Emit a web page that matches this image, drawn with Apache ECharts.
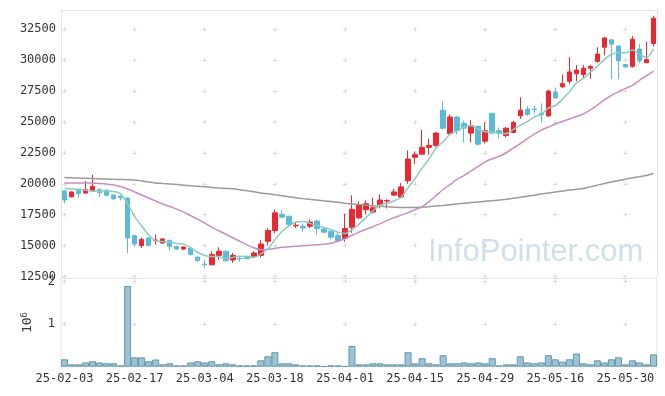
<!DOCTYPE html>
<html><head><meta charset="utf-8">
<script src="https://cdn.jsdelivr.net/npm/echarts@6/dist/echarts.min.js"></script>
<style>html,body{margin:0;padding:0;background:#fff}#c{width:665px;height:396px}</style>
</head><body><div id="c"></div>
<script>
const dates = ['25-02-03','25-02-04','25-02-05','25-02-06','25-02-07','25-02-10','25-02-11','25-02-12','25-02-13','25-02-14',
'25-02-17','25-02-18','25-02-19','25-02-20','25-02-21','25-02-24','25-02-25','25-02-26','25-02-27','25-02-28',
'25-03-04','25-03-05','25-03-06','25-03-07','25-03-10','25-03-11','25-03-12','25-03-13','25-03-14','25-03-17',
'25-03-18','25-03-19','25-03-20','25-03-21','25-03-24','25-03-25','25-03-26','25-03-27','25-03-28','25-03-31',
'25-04-01','25-04-02','25-04-03','25-04-04','25-04-07','25-04-08','25-04-09','25-04-10','25-04-11','25-04-14',
'25-04-15','25-04-16','25-04-17','25-04-18','25-04-21','25-04-22','25-04-23','25-04-24','25-04-25','25-04-28',
'25-04-29','25-04-30','25-05-02','25-05-07','25-05-08','25-05-09','25-05-12','25-05-13','25-05-14','25-05-15',
'25-05-16','25-05-19','25-05-20','25-05-21','25-05-22','25-05-23','25-05-26','25-05-27','25-05-28','25-05-29',
'25-05-30','25-06-02','25-06-04','25-06-05','25-06-09'];

const opens = [19420,18950,19550,19250,19480,19560,19480,19090,19010,18850,
15810,15000,15620,15420,15210,15410,14940,14720,14800,14070,
13500,13450,14210,14540,13830,13960,14130,14130,14210,15350,
16220,17520,17380,16600,16570,16570,16980,16350,16160,15810,
15570,16490,17250,17900,17710,18280,18600,19090,18930,20250,
22150,22400,22950,23100,25950,24050,25400,24900,24100,24650,
23450,25700,24300,23900,24150,25500,26050,26050,25700,25500,
27400,27850,28300,28900,28850,29350,29900,31050,31650,31150,
29650,29500,30900,29800,31350];
const closes = [18690,19340,19200,19550,19800,19280,19070,18790,18870,15620,
15130,15490,15000,15460,15540,14940,14720,14890,14270,13780,
13450,14270,14540,13780,14210,13940,13940,14400,15130,16220,
17650,17300,16710,16650,16430,16900,16380,16080,15680,15410,
16380,17930,18280,18390,18060,18690,18650,19340,19750,22000,
22350,22950,23100,24100,24500,25400,24300,24500,24700,23200,
24300,24100,24100,24500,24950,25950,25600,26000,25600,27500,
26950,28100,29050,29200,29350,29500,30500,31800,31300,29950,
29450,31700,29950,30050,33400];
const lows = [18420,18900,18870,19200,19400,18950,19000,18660,18660,14400,
15000,14800,14950,15080,15150,14600,14650,14650,14200,13700,
13180,13400,13830,13700,13600,13700,13900,14050,14050,15000,
16000,17250,16500,16430,16080,16400,15900,16000,15500,15300,
15300,16030,17120,17520,17600,18010,18010,19000,18850,20000,
21600,22350,22350,23000,24400,24000,24000,23350,23350,23100,
23250,24000,23700,23750,24100,25250,25500,25700,24950,25400,
26900,27750,28100,28300,28500,28500,29800,30400,28450,28450,
29400,29400,29750,29750,31100];
const highs = [19450,19380,19600,20230,20720,19600,19560,19100,19050,18900,
15900,15650,15650,15890,15600,15500,14980,14920,14850,14100,
13860,14540,14860,14600,14400,14130,14200,14540,15430,16400,
17930,17850,17400,16900,16800,17100,17100,16450,16300,16100,
17570,19070,18600,18660,18870,19150,18740,19580,20050,22700,
22600,24350,23650,24200,26650,25600,25450,25100,25150,24700,
24950,25750,24550,24600,25100,27000,26300,26300,26500,27600,
27790,28850,30250,29600,29600,29600,31050,31850,31700,31150,
29700,31950,31300,31500,33600];

const ma5 = [19610,19580,19540,19500,19400,19430,19420,19380,19190,18400,
17350,16600,15850,15400,15330,15285,15170,15120,14840,14460,
14200,14120,14090,13962,14048,14146,14080,14053,14323,14725,
15468,16140,16603,16907,16949,16798,16614,16489,16294,16088,
15986,16295,16735,17277,17807,18268,18412,18624,18896,19684,
20416,21275,22029,22903,23408,24015,24287,24570,24689,24428,
24212,24168,24080,24042,24394,24720,25024,25408,25623,26128,
26334,26834,27444,28161,28526,29036,29513,30061,30479,30604,
30593,30833,30467,30221,30915];
const ma20 = [20070,20070,20070,20070,20050,20030,19990,19907,19785,19582,
19338,19093,18849,18605,18361,18157,17954,17710,17425,17140,
16814,16489,16204,15919,15634,15349,15064,14820,14657,14698,
14779,14861,14901,14942,14983,15023,15064,15105,15186,15349,
15553,15837,16082,16326,16529,16773,17017,17262,17465,17669,
17913,18157,18564,19053,19541,19948,20355,20681,21047,21413,
21780,22024,22227,22512,22879,23245,23652,24018,24344,24588,
24832,25036,25240,25443,25646,25972,26378,26785,27152,27437,
27722,27966,28373,28739,29106];
const ma120 = [20500,20480,20460,20440,20420,20400,20380,20360,20350,20330,
20310,20230,20150,20070,20030,19990,19940,19890,19840,19800,
19760,19710,19660,19620,19590,19520,19430,19350,19260,19190,
19110,19030,18950,18870,18800,18740,18690,18620,18560,18500,
18430,18370,18330,18280,18220,18180,18140,18110,18080,18080,
18090,18110,18150,18200,18250,18310,18370,18430,18480,18530,
18580,18630,18680,18750,18830,18910,19000,19080,19170,19250,
19330,19410,19490,19550,19620,19750,19890,20030,20150,20260,
20370,20480,20580,20670,20830];
const volumes = [174000,56000,56000,100000,130000,100000,80000,80000,30000,1900000,
220000,220000,130000,170000,56000,80000,30000,30000,100000,130000,
100000,130000,56000,80000,56000,30000,30000,30000,150000,245000,
340000,80000,80000,56000,30000,30000,30000,10000,30000,30000,
10000,490000,56000,56000,80000,80000,56000,56000,56000,340000,
80000,200000,80000,56000,270000,80000,80000,100000,80000,100000,
80000,200000,30000,56000,56000,245000,100000,80000,100000,270000,
174000,120000,174000,310000,80000,56000,150000,100000,174000,220000,
56000,150000,100000,56000,290000];

const priceMin = 12500, priceMax = 34060, priceStep = 2500;
const volMax = 2080000, volStep = 1000000;
const watermark = 'InfoPointer.com';

const candles = dates.map((d, i) => [opens[i], closes[i], lows[i], highs[i]]);

const FONT = 'DejaVu Sans Mono';
const gridLine = '#e4e4e4';
const crossColor = '#d8d8d8';

const chart = echarts.init(document.getElementById('c'), null, {renderer: 'canvas'});
chart.setOption({
  animation: false,
  backgroundColor: '#fff',
  grid: [
    {left: 61, right: 8, top: 10, height: 266.5},
    {left: 61, right: 8, top: 278.3, height: 88.4, show: true, borderColor: gridLine, borderWidth: 1}
  ],
  xAxis: [
    {type: 'category', data: dates, gridIndex: 0, position: 'top', boundaryGap: true,
     axisLine: {show: true, lineStyle: {color: gridLine}}, axisTick: {show: false}, axisLabel: {show: false},
     splitLine: {show: true, interval: 9, alignWithLabel: true,
       lineStyle: {color: crossColor, width: 1, type: [4, 26.9], dashOffset: 13.6}}},
    {type: 'category', data: dates, gridIndex: 1, boundaryGap: true,
     axisLine: {show: false}, axisTick: {show: false},
     axisLabel: {interval: 9, color: '#333', fontFamily: FONT, fontSize: 12, margin: 6},
     splitLine: {show: true, interval: 9, alignWithLabel: true,
       lineStyle: {color: crossColor, width: 1, type: [4, 38.5], dashOffset: 41.1}}}
  ],
  yAxis: [
    {type: 'value', gridIndex: 0, min: priceMin, max: priceMax, interval: priceStep, position: 'left',
     axisLine: {show: true, lineStyle: {color: gridLine}}, axisTick: {show: false},
     axisLabel: {color: '#333', fontFamily: FONT, fontSize: 12, margin: 5, showMaxLabel: false, showMinLabel: true,
       formatter: v => String(v)},
     splitLine: {show: true, lineStyle: {color: crossColor, width: 1, type: [4, 66.1], dashOffset: 68.6}}},
    {type: 'value', gridIndex: 1, min: 0, max: volMax, interval: volStep,
     axisLine: {show: false}, axisTick: {show: false},
     axisLabel: {color: '#333', fontFamily: FONT, fontSize: 12, margin: 6, showMaxLabel: false, showMinLabel: false,
       formatter: v => String(v / 1000000)},
     splitLine: {show: true, lineStyle: {color: crossColor, width: 1, type: [4, 66.1], dashOffset: 68.6}},
     name: '{a|10}{b|6}', nameLocation: 'middle', nameRotate: 90, nameGap: 11,
     nameTextStyle: {color: '#333', fontFamily: FONT, rich: {
       a: {fontSize: 13, fontFamily: FONT, color: '#333', lineHeight: 16},
       b: {fontSize: 9, fontFamily: FONT, color: '#333', verticalAlign: 'top', lineHeight: 16, padding: [0, 0, 8, 0]}}}},
    {type: 'value', gridIndex: 0, min: priceMin, max: priceMax, interval: priceStep, position: 'right',
     axisLine: {show: true, lineStyle: {color: gridLine}}, axisTick: {show: false},
     axisLabel: {show: false}, splitLine: {show: false}}
  ],
  graphic: [{
    type: 'text', left: 428, top: 237, silent: true, z: 0,
    style: {text: watermark, font: '31px "Liberation Sans", Arial, sans-serif', fill: 'rgba(175,203,220,0.6)'}
  }],
  series: [
    {type: 'candlestick', xAxisIndex: 0, yAxisIndex: 0, data: candles, barWidth: 5,
     itemStyle: {color: '#e9282f', color0: '#5cbad8', borderColor: '#e9282f', borderColor0: '#5cbad8', borderWidth: 1}},
    {type: 'line', xAxisIndex: 0, yAxisIndex: 0, data: ma120, symbol: 'none', smooth: 0.3,
     lineStyle: {color: '#9a9a9a', width: 1.5}},
    {type: 'line', xAxisIndex: 0, yAxisIndex: 0, data: ma20, symbol: 'none', smooth: 0.3,
     lineStyle: {color: '#c98cc6', width: 1.5}},
    {type: 'line', xAxisIndex: 0, yAxisIndex: 0, data: ma5, symbol: 'none', smooth: 0.3,
     lineStyle: {color: '#8ccbc3', width: 1.5}},
    {type: 'bar', xAxisIndex: 1, yAxisIndex: 1, data: volumes, barWidth: '100%',
     itemStyle: {color: '#9cc2d3', borderColor: '#6397ae', borderWidth: 1}}
  ]
});
</script></body></html>
